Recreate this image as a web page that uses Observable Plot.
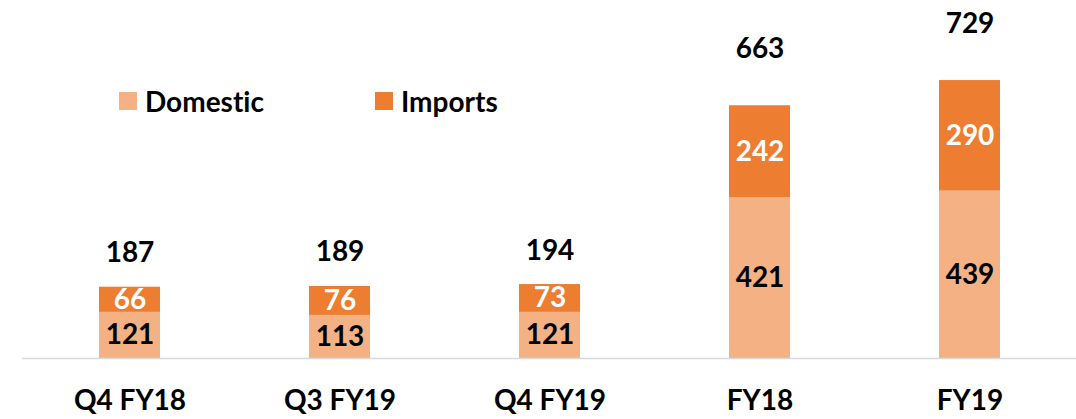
<!DOCTYPE html>
<html>
<head>
<meta charset="utf-8">
<script src="https://cdn.jsdelivr.net/npm/d3@7"></script>
<script src="https://cdn.jsdelivr.net/npm/@observablehq/plot@0.6"></script>
<style>
  html, body { margin: 0; padding: 0; background: #fff; }
  #wrap { position: relative; width: 1076px; height: 419px; font-family: Lato, "Open Sans", sans-serif; font-variant-ligatures: none; }
  #wrap svg text { font-variant-ligatures: none; }
  .legend { position: absolute; top: 84px; display: flex; align-items: center; font-weight: 700; font-size: 28px; color: #000; }
  .legend .sw { width: 18px; height: 18px; margin-right: 8px; }
</style>
</head>
<body>
<div id="wrap"></div>
<script>
const categories = ["Q4 FY18", "Q3 FY19", "Q4 FY19", "FY18", "FY19"];
const domestic = [121, 113, 121, 421, 439];
const imports = [66, 76, 73, 242, 290];
const totals = [187, 189, 194, 663, 729];
const seriesNames = ["Domestic", "Imports"];
const seriesColors = ["#F4B183", "#ED7D31"];

const segments = [];
categories.forEach((c, i) => {
  segments.push({cat: c, type: "Domestic", value: domestic[i], y1: 0, y2: domestic[i]});
  segments.push({cat: c, type: "Imports", value: imports[i], y1: domestic[i], y2: domestic[i] + imports[i]});
});
const totalRows = categories.map((c, i) => ({cat: c, total: totals[i], top: domestic[i] + imports[i]}));

const chart = Plot.plot({
  width: 1076,
  height: 419,
  marginLeft: 22,
  marginRight: 0,
  marginTop: 53,
  marginBottom: 61,
  style: {fontFamily: "Lato, 'Open Sans', sans-serif", background: "#fff"},
  x: {domain: categories, paddingInner: 0.71, paddingOuter: 0.355, label: null},
  y: {domain: [0, 800], axis: null},
  color: {domain: seriesNames, range: seriesColors},
  marks: [
    Plot.barY(segments, {x: "cat", y1: "y1", y2: "y2", fill: "type"}),
    Plot.ruleY([0], {stroke: "#D9D9D9", strokeWidth: 1.5}),
    Plot.text(segments.filter(d => d.type === "Domestic"), {
      x: "cat", y: d => (d.y1 + d.y2) / 2, text: d => String(d.value),
      fill: "#000", fontSize: 28, fontWeight: 700, lineAnchor: "middle"
    }),
    Plot.text(segments.filter(d => d.type === "Imports"), {
      x: "cat", y: d => (d.y1 + d.y2) / 2, text: d => String(d.value),
      fill: "#fff", fontSize: 28, fontWeight: 700, lineAnchor: "middle"
    }),
    Plot.text(totalRows.filter(d => d.cat.startsWith("Q")), {
      x: "cat", y: "top", text: d => String(d.total),
      fill: "#000", fontSize: 28, fontWeight: 700, lineAnchor: "middle", dy: -34
    }),
    Plot.text(totalRows.filter(d => !d.cat.startsWith("Q")), {
      x: "cat", y: "top", text: d => String(d.total),
      fill: "#000", fontSize: 28, fontWeight: 700, lineAnchor: "middle", dy: -57
    }),
    Plot.axisX({tickSize: 0, tickPadding: 32, fontSize: 28, fontWeight: 700, fill: "#000", label: null})
  ]
});

const wrap = document.getElementById("wrap");
chart.style.position = "absolute";
chart.style.left = "0";
chart.style.top = "0";
wrap.appendChild(chart);
const legendLefts = [119, 375];
seriesNames.forEach((name, i) => {
  const item = document.createElement("div");
  item.className = "legend";
  item.style.left = legendLefts[i] + "px";
  const sw = document.createElement("span");
  sw.className = "sw";
  sw.style.background = seriesColors[i];
  const t = document.createElement("span");
  t.textContent = name;
  item.appendChild(sw);
  item.appendChild(t);
  wrap.appendChild(item);
});
</script>
</body>
</html>
